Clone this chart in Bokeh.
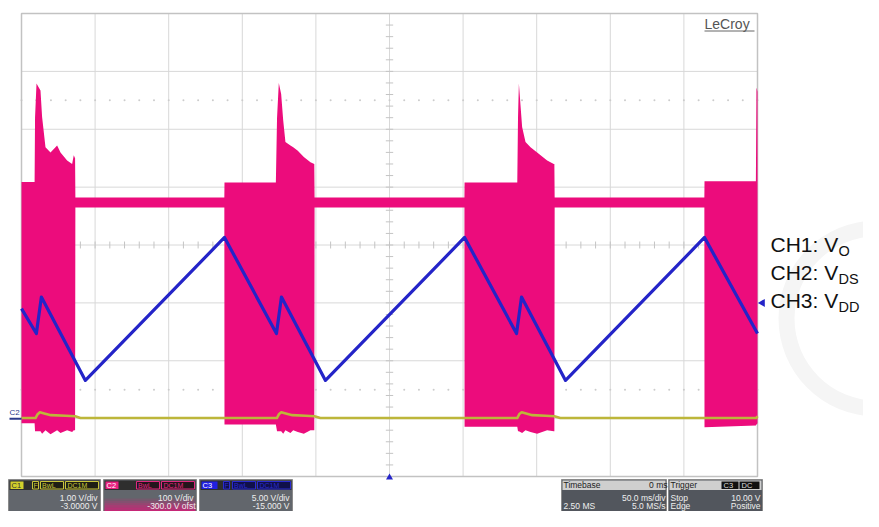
import numpy as np
from bokeh.plotting import figure
from bokeh.models import Range1d
from bokeh.core.properties import value
from bokeh.embed import file_html
from bokeh.resources import INLINE

# ---------------- scope settings ----------------
TIME_PER_DIV = 50.0          # ms/div
N_XDIV = 10
N_YDIV = 8
ch_scale = [1.0, 100.0, 5.0]        # V/div  (C1, C2, C3)
ch_offset = [-3.0, -300.0, -15.0]   # V
trig_level = 10.0                   # V on C3
trig_delay = 0.0                    # ms

# ---------------- CH3: VDD (V) ----------------
vdd_t = [0.0, 10.1, 13.5, 43.4, 137.9, 173.2, 176.6, 206.5, 301.0, 336.3, 339.7, 369.6, 464.0, 500.0]
vdd_v = [9.5, 7.35, 10.5, 3.3, 15.65, 7.35, 10.5, 3.3, 15.65, 7.35, 10.5, 3.3, 15.65, 7.35]

# ---------------- CH1: Vo (V) ----------------
vo_t = [0, 9.5, 10.8, 12.5, 15.5, 20, 30, 36.5, 40,
        173.5, 175, 176.5, 179.5, 184, 193, 199, 203,
        336.8, 338.2, 339.8, 342.8, 347, 356, 362, 366, 499.2, 500]
vo_v = [0.01, 0.01, 0.07, 0.11, 0.09, 0.06, 0.05, 0.04, 0.01,
        0.01, 0.08, 0.11, 0.09, 0.06, 0.05, 0.04, 0.01,
        0.01, 0.08, 0.11, 0.09, 0.06, 0.05, 0.04, 0.01, 0.01, 0.04]

# ---------------- CH2: VDS envelope (V) ----------------
vds_t = [0.0, 8.9, 9.2, 10.2, 12.9, 14.0, 16.3, 19.7, 24.2, 26.5, 31.0, 34.4, 35.5, 36.4,
         36.6, 80.0, 137.8,
         137.9, 172.8, 173.6, 174.8, 176.4, 177.8, 179.3, 182.7, 184.6, 187.7, 191.8, 196.3, 198.9,
         199.1, 250.0, 300.9,
         301.0, 336.8, 337.3, 337.9, 340.1, 342.4, 345.8, 350.3, 357.1, 361.6, 362.0,
         362.2, 420.0, 463.9,
         464.0, 498.9, 499.3, 500.0]
vds_hi = [409, 409, 520, 579, 567, 521, 469, 460, 472, 460, 446, 440, 455, 450,
          382, 382, 382,
          408, 408, 520, 580, 561, 515, 478, 472, 469, 463, 452, 443, 440,
          382, 382, 382,
          408, 408, 520, 579, 504, 478, 469, 460, 446, 440, 440,
          382, 382, 382,
          410, 410, 572, 565]
vds_lo = [-8, -8, -22, -22, -22, -26, -20, -27, -20, -25, -20, -23, -20, -20,
          365, 365, 365,
          -10, -10, -22, -22, -22, -26, -20, -25, -20, -23, -26, -20, -20,
          365, 365, 365,
          -14, -14, -22, -22, -25, -20, -23, -26, -20, -22, -22,
          365, 365, 365,
          -15, -12, -10, -8]

# ---------------- screen layout helpers ----------------
GX0, GY0 = 21.0, 13.0          # grid top-left in canvas pixels
PX_X, PX_Y = 73.6, 57.875      # pixels per division
W, H = 863, 511


def T(px):
    return (px - GX0) * TIME_PER_DIV / PX_X


def D(py):
    return N_YDIV / 2 - (py - GY0) / PX_Y


def to_div(v, ch):
    return (np.asarray(v, dtype=float) + ch_offset[ch]) / ch_scale[ch]


p = figure(width=W, height=H, x_range=Range1d(T(0), T(W)), y_range=Range1d(D(H), D(0)),
           output_backend="svg", toolbar_location=None, x_axis_type=None, y_axis_type=None,
           min_border=0, outline_line_color=None, background_fill_color="white",
           border_fill_color="white")

FONT = value("Liberation Sans")

# faint watermark ring
p.annulus(x=[T(876)], y=[D(318)], inner_radius=82, outer_radius=98,
          inner_radius_units="screen", outer_radius_units="screen",
          fill_color="#f5f5f5", line_color=None)
p.quad(left=[0], right=[N_XDIV * TIME_PER_DIV], bottom=[-N_YDIV / 2], top=[N_YDIV / 2],
       fill_color="white", line_color=None)

# ---------------- graticule ----------------
gx = np.arange(0, N_XDIV + 1) * TIME_PER_DIV
gy = np.arange(-N_YDIV / 2, N_YDIV / 2 + 1)
p.segment(x0=gx, x1=gx, y0=-N_YDIV / 2, y1=N_YDIV / 2, line_color="#d8d8d8", line_width=1)
p.segment(x0=0, x1=N_XDIV * TIME_PER_DIV, y0=gy, y1=gy, line_color="#d8d8d8", line_width=1)
tc = N_XDIV * TIME_PER_DIV / 2
tm = np.arange(0, N_XDIV * TIME_PER_DIV + 0.01, TIME_PER_DIV / 5)
dm = np.arange(-N_YDIV / 2, N_YDIV / 2 + 0.01, 0.2)
p.segment(x0=tm, x1=tm, y0=-0.06, y1=0.06, line_color="#c4c4c4", line_width=1)
p.segment(x0=tc - 2.5, x1=tc + 2.5, y0=dm, y1=dm, line_color="#c4c4c4", line_width=1)
p.scatter(x=np.concatenate([tm, tm]), y=np.concatenate([np.full(tm.size, 2.5), np.full(tm.size, -2.5)]),
          size=2, color="#cccccc", line_color=None)
p.quad(left=[0], right=[N_XDIV * TIME_PER_DIV], bottom=[-N_YDIV / 2], top=[N_YDIV / 2],
       fill_color=None, line_color="#c2c2c2", line_width=1.5)

# ---------------- traces ----------------
p.varea(x=vds_t, y1=to_div(vds_lo, 1), y2=to_div(vds_hi, 1), fill_color="#ec0c7c")
p.line(vdd_t, to_div(vdd_v, 2), line_color="#2424c8", line_width=3.2, line_join="round")
p.line(vo_t, to_div(vo_v, 0), line_color="#bdb63a", line_width=2.6, line_join="round")

# markers
p.scatter(x=[T(762)], y=to_div([trig_level], 2), marker="triangle", angle=np.pi / 2, size=8,
          color="#2424c8", line_color=None)
p.scatter(x=[tc + trig_delay], y=[D(477)], marker="triangle", size=7, color="#2424c8", line_color=None)
gnd2 = ch_offset[1] / ch_scale[1]
p.segment(x0=[T(9)], x1=[T(21)], y0=[gnd2], y1=[gnd2], line_color="#2a3a8a", line_width=2)
p.text(x=[T(9)], y=[D(412)], text=["C2"], text_font=FONT, text_font_size="8px", text_color="#2a3a8a",
       text_baseline="middle", text_align="left")

# LeCroy logo
p.text(x=[T(704)], y=[D(23)], text=["LeCroy"], text_font=FONT, text_font_size="14px",
       text_color="#555555", text_baseline="middle", text_align="left")
p.segment(x0=[T(704)], x1=[T(754)], y0=[D(30.5)], y1=[D(30.5)], line_color="#666666", line_width=1)

# channel legend
for i, (main, sub) in enumerate([("CH1: V", "O"), ("CH2: V", "DS"), ("CH3: V", "DD")]):
    cy = 244 + 28 * i
    p.text(x=[T(770)], y=[D(cy)], text=[main], text_font=FONT, text_font_size="21px",
           text_color="#111111", text_baseline="middle", text_align="left")
    p.text(x=[T(838)], y=[D(cy + 6)], text=[sub], text_font=FONT, text_font_size="14.5px",
           text_color="#111111", text_baseline="middle", text_align="left")


# ---------------- info panels (compressed to fit the canvas height) ----------------
PT, PH, R1, R2 = 479, 489.5, 497.0, 505.0
HM = (PT + PH) / 2 + 0.5
FS = "8.5px"


def box(x0, x1, y0, y1, color, line=None, alpha=1.0):
    p.quad(left=[T(x0)], right=[T(x1)], top=[D(y0)], bottom=[D(y1)], fill_color=color,
           fill_alpha=alpha, line_color=line, line_width=1)


def txt(x, y, s, size=FS, color="#eeeeee", align="left"):
    p.text(x=[T(x)], y=[D(y)], text=[s], text_font=FONT, text_font_size=size, text_color=color,
           text_baseline="middle", text_align=align)


# channel boxes
for (x0, x1, ccol, bcol, tcol, label, l1, l2) in [
        (8, 100, "#d2cf2c", "#1e1e14", "#c8c43a", "C1", "1.00 V/div", "-3.0000 V"),
        (103, 196, "#e8207f", "#24141c", "#e0287f", "C2", "100 V/div", "-300.0 V ofst"),
        (199, 292, "#2020e0", "#10104a", "#2a2ad0", "C3", "5.00 V/div", "-15.000 V")]:
    box(x0, x1, PT, H + 2, "#62666c", line="#8a8a8a")
    if label == "C2":
        for k in range(6):
            box(x0 + 1, x1 - 1, 498 + 2.2 * k, 500.2 + 2.2 * k, "#e0187a", alpha=0.15 + 0.13 * k)
    box(x0 + 1, x1 - 1, PT + 1, PH, "#2e2e2e")
    box(x0 + 2, x0 + 15 if label != "C3" else x0 + 18, PT + 2, PH - 1, ccol)
    txt(x0 + 3, HM, label, "7.5px", "#333333" if label == "C1" else "#ffffff")
    if label != "C2":
        box(x0 + 24, x0 + 30, PT + 2, PH - 1, bcol, line=tcol)
        txt(x0 + 25, HM, "F", "7px", tcol)
    box(x1 - 60, x1 - 37, PT + 2, PH - 1, bcol, line=tcol)
    txt(x1 - 58.5, HM, "BwL", "7px", tcol)
    box(x1 - 35, x1 - 2, PT + 2, PH - 1, bcol, line=tcol)
    txt(x1 - 33, HM, "DC1M", "7px", tcol)
    txt(x1 - 3, R1, l1, FS, "#eeeeee", "right")
    txt(x1 - 1 if label == "C2" else x1 - 3, R2, l2, FS, "#eeeeee", "right")

# timebase box
box(561, 666, PT, H + 2, "#52565d", line="#8a8a8a")
box(562, 665, PT + 1, PH, "#cfcfcf")
txt(563, HM, "Timebase", FS, "#222222")
txt(667, HM, "0 ms", FS, "#222222", "right")
txt(665, R1, "50.0 ms/div", FS, "#eeeeee", "right")
txt(563, R2, "2.50 MS")
txt(665, R2, "5.0 MS/s", FS, "#eeeeee", "right")

# trigger box
box(668, 762, PT, H + 2, "#52565d", line="#8a8a8a")
box(669, 761, PT + 1, PH, "#cfcfcf")
txt(670, HM, "Trigger", FS, "#222222")
box(721, 738, PT + 2, PH - 1, "#111111")
txt(723, HM, "C3", "7.5px", "#dddddd")
box(739, 759, PT + 2, PH - 1, "#111111")
txt(741, HM, "DC", "7.5px", "#dddddd")
txt(670, R1, "Stop")
txt(760, R1, "10.00 V", FS, "#eeeeee", "right")
txt(670, R2, "Edge")
txt(760, R2, "Positive", FS, "#eeeeee", "right")

open("out.html", "w").write(file_html(p, INLINE))
